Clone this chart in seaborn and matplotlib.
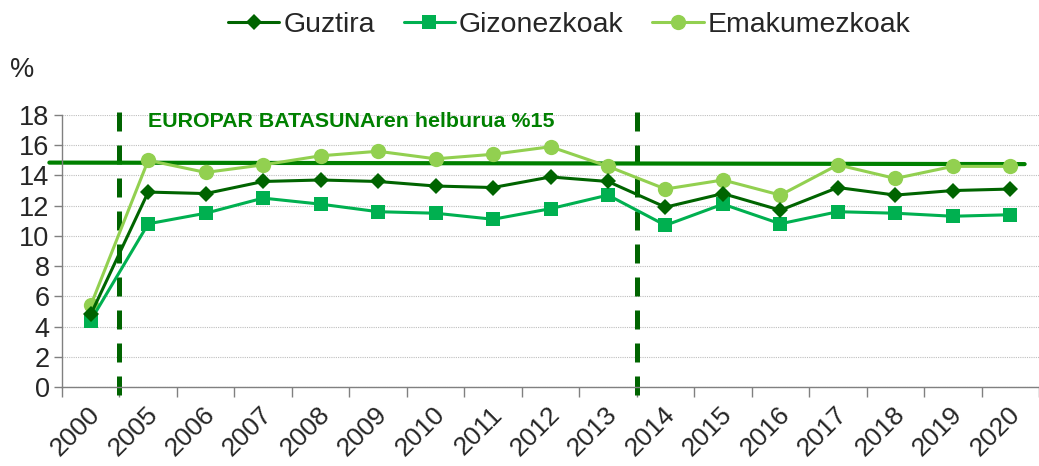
import numpy as np
import pandas as pd
import matplotlib
matplotlib.use("Agg")
import matplotlib.pyplot as plt
import seaborn as sns
from matplotlib.lines import Line2D

years = ["2000", "2005", "2006", "2007", "2008", "2009", "2010", "2011", "2012",
         "2013", "2014", "2015", "2016", "2017", "2018", "2019", "2020"]
guztira = [4.8, 12.9, 12.8, 13.6, 13.7, 13.6, 13.3, 13.2, 13.9, 13.6, 11.9, 12.8, 11.7, 13.2, 12.7, 13.0, 13.1]
gizonezkoak = [4.4, 10.8, 11.5, 12.5, 12.1, 11.6, 11.5, 11.1, 11.8, 12.7, 10.7, 12.1, 10.8, 11.6, 11.5, 11.3, 11.4]
emakumezkoak = [5.4, 15.0, 14.2, 14.7, 15.3, 15.6, 15.1, 15.4, 15.9, 14.6, 13.1, 13.7, 12.7, 14.7, 13.8, 14.6, 14.6]
series_names = ["Guztira", "Gizonezkoak", "Emakumezkoak"]
goal = 14.85
goal_label = "EUROPAR BATASUNAren helburua %15"

sns.set_theme(style="white")
plt.rcParams['font.family'] = ['Liberation Sans', 'DejaVu Sans']

colors = {"Guztira": "#006400", "Gizonezkoak": "#00B050", "Emakumezkoak": "#92D050"}
markers = {"Guztira": "D", "Gizonezkoak": "s", "Emakumezkoak": "o"}
msizes = {"Guztira": 8.5, "Gizonezkoak": 10.5, "Emakumezkoak": 11}

x = np.arange(len(years))
df = pd.DataFrame({"x": np.tile(x, 3),
                   "value": guztira + gizonezkoak + emakumezkoak,
                   "serie": np.repeat(series_names, len(years))})

fig = plt.figure(figsize=(10.39, 4.66), dpi=100)
ax = fig.add_axes([62/1039, 1 - 387/466, 1 - 62/1039, (387 - 115)/466])

for name in ["Emakumezkoak", "Gizonezkoak", "Guztira"]:
    sub = df[df["serie"] == name]
    sns.lineplot(data=sub, x="x", y="value", ax=ax, color=colors[name],
                 marker=markers[name], markersize=msizes[name], linewidth=2.2,
                 markeredgewidth=0, legend=False, zorder=3)

ax.set_ylim(0, 18)
ax.set_xlim(-0.5, 16.25)
ax.set_yticks(np.arange(0, 19, 2))
ax.yaxis.grid(True, color="#BFBFBF", linestyle=(0, (1, 1)), linewidth=0.8)
ax.set_axisbelow(True)

# dashed vertical separators
for xv in [0.5, 9.5]:
    ax.plot([xv, xv], [-0.5, 18.6], color="#006400", linewidth=3.6,
            linestyle=(0, (3.8, 2.8)), clip_on=False, zorder=2)

# goal line
ax.plot([-0.72, 16.25], [goal, goal - 0.1], color="#008000", linewidth=3.0,
        clip_on=False, zorder=2)

ax.text(1.0, 17.55, goal_label, color="#008000", fontsize=15.4, fontweight="bold",
        va="center", ha="left")

ax.set_xticks(x)
ax.set_xticklabels(years, rotation=45, ha="right", rotation_mode="anchor", fontsize=19)
ax.tick_params(axis="x", which="major", length=0, pad=11)
ax.set_xticks(np.arange(-0.5, 16.6, 1), minor=True)
ax.tick_params(axis="x", which="minor", length=7, width=1, color="#808080", direction="out", bottom=True)
ax.tick_params(axis="y", length=6, width=1, color="#808080", labelsize=19.5, direction="out", left=True, pad=3)
for lab in ax.get_xticklabels():
    lab.set_transform(lab.get_transform() + matplotlib.transforms.ScaledTranslation(-0.03, 0, fig.dpi_scale_trans))
ax.set_xlabel("")
ax.set_ylabel("")

for s in ["top", "right"]:
    ax.spines[s].set_visible(False)
for s in ["left", "bottom"]:
    ax.spines[s].set_color("#808080")
    ax.spines[s].set_linewidth(1)

fig.text(22/1039, 1 - 70/466, "%", fontsize=19.5, ha="center", va="center")

handles = [Line2D([0], [0], color=colors[n], marker=markers[n], markersize=msizes[n],
                  linewidth=2.2, markeredgewidth=0) for n in series_names]
fig.legend(handles, series_names, loc="center", bbox_to_anchor=(0.548, 0.946), ncol=3,
           frameon=False, fontsize=20.5, handlelength=1.8, handletextpad=0.15, columnspacing=1.0)

fig.savefig("out.png", dpi=100)
